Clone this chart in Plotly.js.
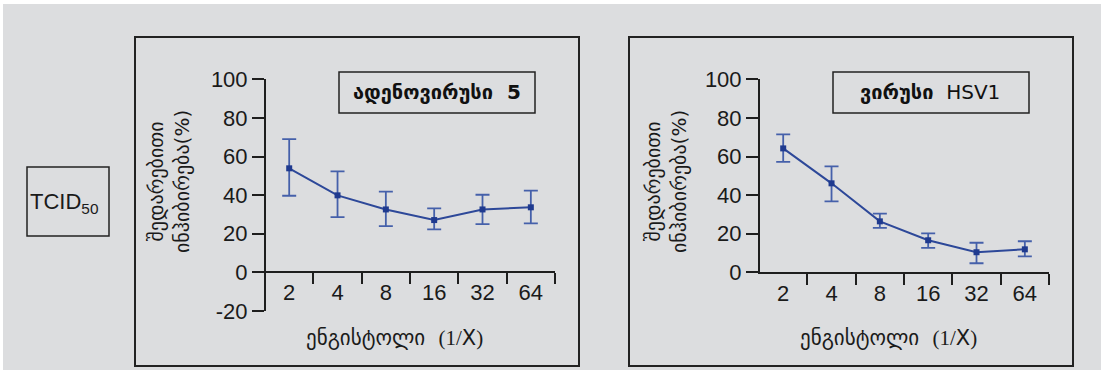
<!DOCTYPE html>
<html>
<head>
<meta charset="utf-8">
<script src="https://cdn.plot.ly/plotly-3.0.1.min.js"></script>
<style>html,body{margin:0;padding:0;background:#dcdddf;}#chart{width:1101px;height:370px;}</style>
</head>
<body>
<div id="chart"></div>
<script>
// ---- data ----
const dilutions = ['2', '4', '8', '16', '32', '64'];
const adenoMean  = [53.9, 39.9, 32.6, 27.1, 32.6, 33.7];
const adenoUpper = [69.0, 52.3, 41.8, 33.2, 40.2, 42.3];
const adenoLower = [39.7, 28.6, 24.0, 22.3, 25.0, 25.4];
const hsvMean  = [64.2, 46.1, 26.4, 16.6, 10.4, 11.9];
const hsvUpper = [71.5, 54.9, 30.4, 20.2, 15.3, 16.1];
const hsvLower = [57.2, 36.8, 23.0, 12.7, 4.7, 8.3];
const yTicks1 = [-20, 0, 20, 40, 60, 80, 100];
const yTickText1 = ['-20', '0', '20', '40', '60', '80', '100'];
const yTicks2 = [0, 20, 40, 60, 80, 100];
const yTickText2 = ['0', '20', '40', '60', '80', '100'];
const yTitle = 'შედარებითი<br>ინჰიბირება(%)';
const xTitle = 'ენგისტოლი  <span style="font-family:Liberation Serif">(1/</span>X<span style="font-family:Liberation Serif">)</span>';
const title1 = '<b>ადენოვირუსი  5</b>';
const title2 = '<b>ვირუსი</b>  HSV1';
const tcidLabel = 'TCID<sub>50</sub>';

// ---- helpers (layout only) ----
const W = 1101, H = 370;
const px = x => x / W;
const py = y => 1 - y / H;
const diff = (a, b) => a.map((v, i) => +(v - b[i]).toFixed(2));

const lineColor = '#2d4899';
const errColor = '#4560aa';
const markerColor = '#1f3a8f';
const axisColor = '#1e1e1e';
const FONT = 'Liberation Sans, Arial, DejaVu Sans, sans-serif';
const GEO = 'DejaVu Sans, sans-serif';

function trace(mean, upper, lower, xa, ya) {
  return {
    type: 'scatter', mode: 'lines+markers',
    x: dilutions, y: mean, xaxis: xa, yaxis: ya,
    line: {color: lineColor, width: 2},
    marker: {symbol: 'square', size: 6, color: markerColor},
    error_y: {type: 'data', symmetric: false,
      array: diff(upper, mean), arrayminus: diff(mean, lower),
      color: errColor, thickness: 1.8, width: 7},
    cliponaxis: false, showlegend: false, hoverinfo: 'x+y'
  };
}

const data = [
  trace(adenoMean, adenoUpper, adenoLower, 'x', 'y'),
  trace(hsvMean, hsvUpper, hsvLower, 'x2', 'y2')
];

const tickFont = {family: FONT, size: 22, color: '#1a1a1a'};
// range starts just past the first boundary so no tick is drawn on the y axis
const catAxis = (extra) => Object.assign({
  type: 'category', range: [-0.48, 5.5], showgrid: false, zeroline: false,
  showline: true, linecolor: axisColor, linewidth: 2, tickson: 'boundaries',
  ticks: 'outside', ticklen: 11, tickwidth: 2, tickcolor: axisColor,
  tickfont: tickFont, fixedrange: true
}, extra);
const valAxis = (extra) => Object.assign({
  showgrid: false, zeroline: false, showline: true, tickmode: 'array',
  linecolor: axisColor, linewidth: 2, ticks: 'outside', ticklen: 12, tickwidth: 2,
  tickcolor: axisColor, tickfont: tickFont, fixedrange: true
}, extra);

const dom1x = [px(266), px(555)];
const dom2x = [px(760), px(1049)];
const yZero = py(272.3);

const ann = (x, y, text, size, family, extra) => Object.assign({
  xref: 'paper', yref: 'paper', x: px(x), y: py(y), xanchor: 'center', yanchor: 'middle',
  text: text, showarrow: false, font: {family: family, size: size, color: '#1a1a1a'}
}, extra || {});

const layout = {
  width: W, height: H,
  margin: {l: 0, r: 0, t: 0, b: 0},
  paper_bgcolor: '#dcdddf', plot_bgcolor: 'rgba(0,0,0,0)',
  font: {family: FONT, color: '#1a1a1a'},
  xaxis: catAxis({domain: dom1x, anchor: 'free', position: yZero}),
  yaxis: valAxis({domain: [py(311), py(79.3)], range: [-20, 100], anchor: 'x', tickvals: yTicks1, ticktext: yTickText1}),
  xaxis2: catAxis({domain: dom2x, anchor: 'y2'}),
  yaxis2: valAxis({domain: [yZero, py(79.3)], range: [0, 100], anchor: 'x2', tickvals: yTicks2, ticktext: yTickText2}),
  shapes: [
    {type: 'rect', xref: 'paper', yref: 'paper', x0: 0, x1: 1, y0: py(4), y1: 1, fillcolor: '#ffffff', line: {width: 0}, layer: 'below'},
    {type: 'rect', xref: 'paper', yref: 'paper', x0: 0, x1: px(3), y0: 0, y1: 1, fillcolor: '#ffffff', line: {width: 0}, layer: 'below'},
    {type: 'rect', xref: 'paper', yref: 'paper', x0: px(135), x1: px(579), y0: py(366), y1: py(37), line: {color: '#222', width: 2}},
    {type: 'rect', xref: 'paper', yref: 'paper', x0: px(629), x1: px(1073), y0: py(366), y1: py(37), line: {color: '#222', width: 2}},
    {type: 'rect', xref: 'paper', yref: 'paper', x0: px(27), x1: px(109), y0: py(236), y1: py(167), line: {color: '#222', width: 1.5}},
    {type: 'rect', xref: 'paper', yref: 'paper', x0: px(339), x1: px(535), y0: py(113), y1: py(72), line: {color: '#222', width: 1.5}},
    {type: 'rect', xref: 'paper', yref: 'paper', x0: px(833), x1: px(1029), y0: py(113), y1: py(72), line: {color: '#222', width: 1.5}}
  ],
  annotations: [
    ann(64, 203, tcidLabel, 22, FONT),
    ann(437, 92, title1, 20, GEO, {font: {family: GEO, size: 20, color: '#111'}}),
    ann(930, 92, title2, 20, GEO, {font: {family: GEO, size: 20, color: '#111'}}),
    ann(169, 182, yTitle, 20, GEO, {textangle: -90}),
    ann(666, 182, yTitle, 20, GEO, {textangle: -90}),
    ann(394, 338, xTitle, 21, GEO),
    ann(888, 338, xTitle, 21, GEO)
  ]
};

Plotly.newPlot('chart', data, layout, {displayModeBar: false, staticPlot: true});
</script>
</body>
</html>
